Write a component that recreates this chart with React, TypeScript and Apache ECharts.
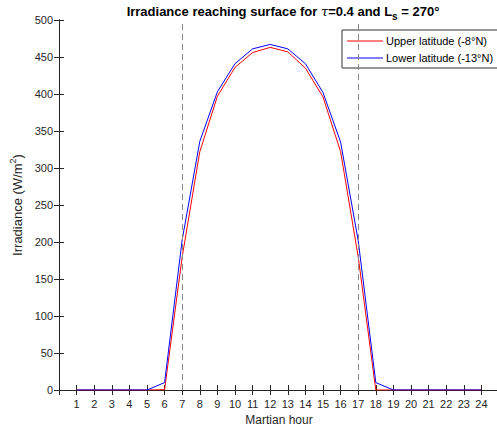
import React, { useEffect, useRef } from "react";
import * as echarts from "echarts";

const hours = [1, 2, 3, 4, 5, 6, 7, 8, 9, 10, 11, 12, 13, 14, 15, 16, 17, 18, 19, 20, 21, 22, 23, 24];
const upperLat = [0, 0, 0, 0, 0, 0.5, 180, 322, 397, 436, 456, 463, 457, 435, 396, 322, 180, 0, 0, 0, 0, 0, 0, 0];
const lowerLat = [0, 0, 0, 0, 0, 10, 203, 336, 403, 441, 461, 467, 461, 441, 402, 335, 202, 10, 0, 0, 0, 0, 0, 0];
const dashedHours = [7, 17];
const yTicks = [0, 50, 100, 150, 200, 250, 300, 350, 400, 450, 500];

const FONT = "Liberation Sans, Arial, sans-serif";
const AX = "#262626";

export default function App() {
  const ref = useRef<HTMLDivElement>(null);
  useEffect(() => {
    if (!ref.current) return;
    const chart = echarts.init(ref.current, undefined, { renderer: "svg" });
    const axisCommon = {
      axisLine: { show: true, lineStyle: { color: AX, width: 1 } },
      axisTick: { show: true, inside: true, length: 5, lineStyle: { color: AX } },
      splitLine: { show: false },
    };
    chart.setOption({
      animation: false,
      backgroundColor: "#ffffff",
      textStyle: { fontFamily: FONT },
      title: {
        text: "Irradiance reaching surface for {i|τ}=0.4 and L{sub|s} = 270°",
        left: 278,
        textAlign: "center",
        top: -4,
        textStyle: {
          fontFamily: FONT,
          fontSize: 13,
          fontWeight: "bold",
          color: "#000",
          rich: {
            i: { fontFamily: "DejaVu Serif, serif", fontStyle: "italic", fontSize: 13, fontWeight: "normal", color: "#000" },
            sub: { fontFamily: FONT, fontSize: 10, fontWeight: "bold", color: "#000", padding: [10, 0, 0, 0] },
          },
        },
      },
      legend: {
        orient: "vertical",
        left: 342,
        top: 30,
        padding: [4, 5, 3, 5],
        itemGap: 3,
        itemWidth: 36,
        itemHeight: 1,
        borderColor: "#333",
        borderWidth: 1,
        backgroundColor: "#fff",
        textStyle: { fontFamily: FONT, fontSize: 11, color: "#000", padding: [0, 0, 0, -2], lineHeight: 14 },
        data: [
          { name: "Upper latitude (-8°N)", icon: "rect" },
          { name: "Lower latitude (-13°N)", icon: "rect" },
        ],
      },
      grid: { left: 59, right: -2, top: 20, bottom: 40, containLabel: false, outerBoundsMode: "none" },
      xAxis: [
        {
          type: "value",
          min: 0,
          max: 25,
          interval: 1,
          ...axisCommon,
          axisLabel: {
            color: AX,
            fontSize: 11,
            fontFamily: FONT,
            margin: 8,
            formatter: (v: number) => (hours.includes(v) ? String(v) : ""),
          },
          name: "Martian hour",
          nameLocation: "middle",
          nameGap: 24,
          nameTextStyle: { color: AX, fontSize: 12, fontFamily: FONT },
        },
        {
          type: "value",
          position: "top",
          min: 0,
          max: 25,
          interval: 1,
          ...axisCommon,
          axisLabel: { show: false },
        },
      ],
      yAxis: [
        {
          type: "value",
          min: 0,
          max: 500,
          interval: 50,
          ...axisCommon,
          axisLabel: {
            color: AX,
            fontSize: 11,
            fontFamily: FONT,
            margin: 6,
            formatter: (v: number) => (yTicks.includes(v) ? String(v) : ""),
          },
          name: "Irradiance (W/m{sup|2})",
          nameLocation: "middle",
          nameGap: 31,
          nameRotate: 90,
          nameTextStyle: {
            color: AX,
            fontSize: 13,
            fontFamily: FONT,
            rich: { sup: { fontSize: 9, color: AX, fontFamily: FONT, padding: [0, 0, 9, 0] } },
          },
        },
        {
          type: "value",
          position: "right",
          min: 0,
          max: 500,
          interval: 50,
          ...axisCommon,
          axisLabel: { show: false },
        },
      ],
      series: [
        {
          name: "Upper latitude (-8°N)",
          type: "line",
          symbol: "none",
          color: "#ff0000",
          lineStyle: { color: "#ff0000", width: 1 },
          data: hours.map((h, i) => [h, upperLat[i]]),
          z: 3,
          markLine: {
            silent: true,
            symbol: "none",
            label: { show: false },
            lineStyle: { color: "#888888", type: [6, 4], width: 1 },
            data: dashedHours.map((h) => ({ xAxis: h })),
          },
        },
        {
          name: "Lower latitude (-13°N)",
          type: "line",
          symbol: "none",
          color: "#0000ff",
          lineStyle: { color: "#0000ff", width: 1 },
          data: hours.map((h, i) => [h, lowerLat[i]]),
          z: 4,
        },
      ],
    });
    return () => chart.dispose();
  }, []);
  return <div ref={ref} style={{ width: 497, height: 430, position: "fixed", left: 0, top: 0 }} />;
}
